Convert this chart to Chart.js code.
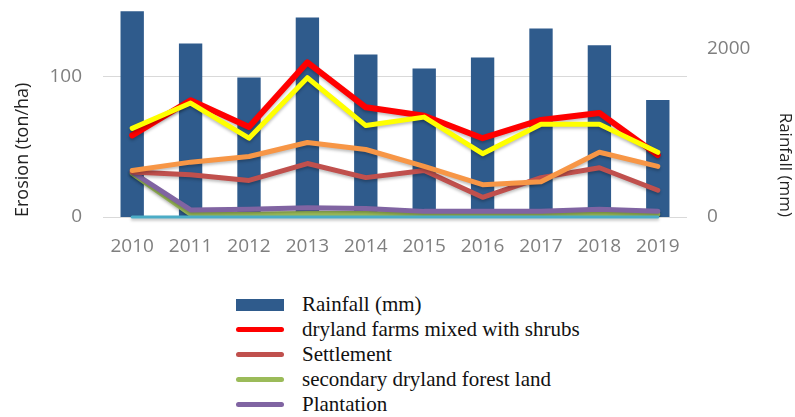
<!DOCTYPE html>
<html>
<head>
<meta charset="utf-8">
<script src="https://cdn.jsdelivr.net/npm/chart.js@4"></script>
<style>
  body { margin: 0; background: #fff; }
  #wrap { position: relative; width: 795px; height: 417px; }
  #box { position: absolute; left: 0; top: 0; width: 795px; height: 270px; }
  #legend { position: absolute; left: 236px; top: 292px; font-family: "Liberation Serif", "DejaVu Serif", serif; font-size: 21px; color: #111; }
  #legend .row { height: 25px; display: flex; align-items: center; }
  #legend .sw { width: 48px; margin-right: 18px; }
</style>
</head>
<body>
<div id="wrap">
  <div id="box"><canvas id="chart"></canvas></div>
  <div id="legend"></div>
</div>
<script>
// years on the x axis
const years = ["2010", "2011", "2012", "2013", "2014", "2015", "2016", "2017", "2018", "2019"];

// rainfall bars (right axis, mm)
const rainfall = [2438, 2055, 1653, 2363, 1925, 1760, 1890, 2233, 2036, 1385];

// erosion lines (left axis, ton/ha)
const drylandShrubs = [58, 83, 64, 110, 78, 72, 56, 69, 74, 44];
const settlement = [32, 30, 26, 38, 28, 33, 14, 28, 35, 19];
const secondaryForest = [31, 2, 2, 2.5, 2.5, 2, 2, 2, 2.5, 2];
const plantation = [32, 5, 5.5, 6.5, 6, 4, 4, 4, 5.5, 4];
// series whose legend entries are cut off in the original
const seriesSix = [0, 0, 0, 0, 0, 0, 0, 0, 0, 0];
const seriesSeven = [33, 39, 43, 53, 48, 36, 23, 25, 46, 36];
const seriesEight = [63, 81, 56, 99, 65, 71, 45, 66, 66, 46];

const erosionTicks = [0, 100];
const rainTicks = [0, 2000];

function line(label, data, color, width, order, inLegend) {
    return { type: 'line', label: label, data: data, borderColor: color, backgroundColor: color,
             borderWidth: width, pointRadius: 0, tension: 0, yAxisID: 'y', order: order,
             inLegend: inLegend, borderCapStyle: 'round', borderJoinStyle: 'round' };
}

// soft shadow under the lines like the office chart
const shadow = {
    id: 'shadow',
    beforeDatasetDraw(chart, args) {
        if (args.meta.type !== 'line') return;
        const ctx = chart.ctx;
        ctx.save();
        ctx.shadowColor = 'rgba(0,0,0,0.25)';
        ctx.shadowBlur = 3;
        ctx.shadowOffsetY = 2;
    },
    afterDatasetDraw(chart, args) {
        if (args.meta.type !== 'line') return;
        chart.ctx.restore();
    }
};

function noPad(s) {
    s.paddingTop = 0;
    s.paddingBottom = 0;
}

const tickFont = { family: 'Open Sans', size: 19 };

const cyanLine = line('Series 6', seriesSix, '#4BACC6', 3, 0, false);
cyanLine.clip = false;

const chart = new Chart(document.getElementById('chart'), {
    type: 'bar',
    data: {
        labels: years,
        datasets: [
            { type: 'bar', label: 'Rainfall (mm)', data: rainfall, backgroundColor: '#2F5B8C',
              yAxisID: 'y2', order: 10, barPercentage: 0.4, categoryPercentage: 1, inLegend: true },
            line('dryland farms mixed with shrubs', drylandShrubs, '#FF0000', 6, 2, true),
            line('Settlement', settlement, '#C0504D', 5, 4, true),
            line('secondary dryland forest land', secondaryForest, '#9BBB59', 5, 7, true),
            line('Plantation', plantation, '#8064A2', 5, 5, true),
            cyanLine,
            line('Series 7', seriesSeven, '#F79646', 5, 3, false),
            line('Series 8', seriesEight, '#FFFF00', 5, 1, false)
        ]
    },
    options: {
        responsive: true,
        maintainAspectRatio: false,
        animation: false,
        layout: { padding: { top: 6, left: 0, right: 0, bottom: 0 } },
        plugins: { legend: { display: false }, tooltip: { enabled: false } },
        scales: {
            x: {
                grid: { display: false, drawTicks: false },
                border: { display: false },
                ticks: { color: '#7F7F7F', font: tickFont, padding: 18 },
                afterFit(s) { s.height = 270 - 6 - 211; s.paddingLeft = 0; s.paddingRight = 0; }
            },
            y: {
                position: 'left', min: 0, max: 150,
                afterBuildTicks(s) { s.ticks = erosionTicks.map(v => ({ value: v })); },
                grid: { color: '#D9D9D9', drawTicks: false },
                border: { display: false },
                ticks: { color: '#7F7F7F', font: tickFont, padding: 21 },
                title: { display: true, text: 'Erosion (ton/ha)', color: '#222', align: 'start',
                         font: { family: 'Open Sans', size: 18 }, padding: { top: 12, bottom: 0 } },
                afterFit(s) { s.width = 103; noPad(s); }
            },
            y2: {
                position: 'right', min: 0, max: 2500,
                afterBuildTicks(s) { s.ticks = rainTicks.map(v => ({ value: v })); },
                grid: { display: false, drawTicks: false },
                border: { display: false },
                ticks: { color: '#7F7F7F', font: tickFont, padding: 20, callback: v => String(v) },
                title: { display: true, text: 'Rainfall (mm)', color: '#222', align: 'start',
                         font: { family: 'Open Sans', size: 17 }, padding: { top: 0, bottom: 0 } },
                afterFit(s) { s.width = 108; noPad(s); }
            }
        }
    },
    plugins: [shadow]
});

// legend built from the chart datasets (only the entries visible in the original)
const legendBox = document.getElementById('legend');
chart.data.datasets.filter(ds => ds.inLegend).forEach(ds => {
    const row = document.createElement('div');
    row.className = 'row';
    const sw = document.createElement('span');
    sw.className = 'sw';
    if (ds.type === 'bar') {
        sw.style.height = '12px';
        sw.style.background = ds.backgroundColor;
    } else {
        sw.style.height = '5px';
        sw.style.borderRadius = '3px';
        sw.style.background = ds.borderColor;
    }
    const txt = document.createElement('span');
    txt.innerText = ds.label;
    row.appendChild(sw);
    row.appendChild(txt);
    legendBox.appendChild(row);
});
</script>
</body>
</html>
